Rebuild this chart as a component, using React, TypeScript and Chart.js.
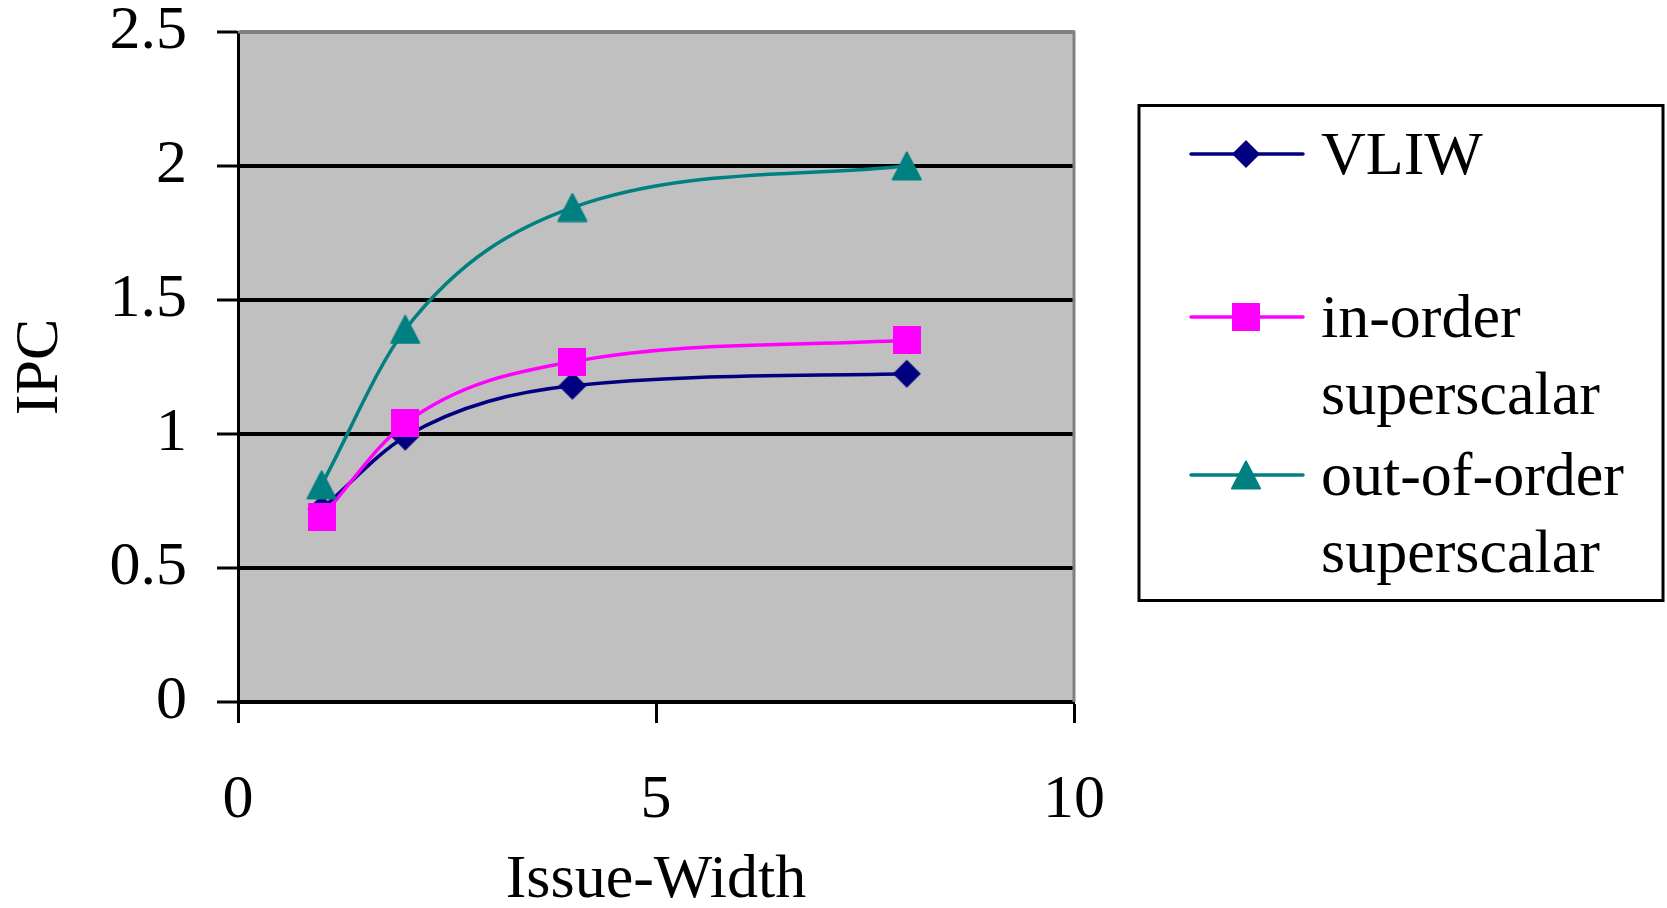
import { useEffect, useRef } from 'react';
import { Chart, registerables } from 'chart.js';

Chart.register(...registerables);

// Issue width on the x axis, IPC per processor model on the y axis
const issueWidths = [1, 2, 4, 8];
const vliwIpc = [0.72, 0.99, 1.18, 1.225];
const inOrderIpc = [0.69, 1.04, 1.27, 1.35];
const outOfOrderIpc = [0.81, 1.39, 1.845, 2.0];

const seriesNames = ['VLIW', 'in-order superscalar', 'out-of-order superscalar'];
const legendLines = [['VLIW'], ['in-order', 'superscalar'], ['out-of-order', 'superscalar']];
const seriesColors = ['#000080', '#FF00FF', '#008080'];
const markerKinds = ['diamond', 'square', 'triangle'] as const;

const xTickValues = [0, 5, 10];
const yTickValues = [0, 0.5, 1, 1.5, 2, 2.5];

const FONT_FAMILY = "'Liberation Serif', 'Times New Roman', serif";
const W = 1667;
const H = 908;

function makeMarker(kind: 'diamond' | 'square' | 'triangle', color: string): HTMLCanvasElement {
  const c = document.createElement('canvas');
  const ctx = c.getContext('2d') as CanvasRenderingContext2D;
  if (kind === 'diamond') {
    c.width = 30;
    c.height = 30;
    ctx.fillStyle = color;
    ctx.beginPath();
    ctx.moveTo(15, 1);
    ctx.lineTo(29, 15);
    ctx.lineTo(15, 29);
    ctx.lineTo(1, 15);
    ctx.closePath();
    ctx.fill();
  } else if (kind === 'square') {
    c.width = 28;
    c.height = 28;
    ctx.fillStyle = color;
    ctx.fillRect(0, 0, 28, 28);
  } else {
    c.width = 32;
    c.height = 30;
    ctx.fillStyle = color;
    ctx.strokeStyle = color;
    ctx.lineJoin = 'round';
    ctx.lineWidth = 2;
    ctx.beginPath();
    ctx.moveTo(16, 1.5);
    ctx.lineTo(30, 28.5);
    ctx.lineTo(2, 28.5);
    ctx.closePath();
    ctx.fill();
    ctx.stroke();
  }
  return c;
}

function toPoints(values: number[]) {
  return issueWidths.map((x, i) => ({ x, y: values[i] }));
}

export default function App() {
  const canvasRef = useRef<HTMLCanvasElement | null>(null);

  useEffect(() => {
    const canvas = canvasRef.current;
    if (!canvas) return;

    const markers = markerKinds.map((k, i) => makeMarker(k, seriesColors[i]));
    const seriesValues = [vliwIpc, inOrderIpc, outOfOrderIpc];

    // Plot background and the grey frame on the top/right of the plot area
    const plotFrame = {
      id: 'plotFrame',
      beforeDraw(chart: any) {
        const { ctx, chartArea } = chart;
        ctx.save();
        ctx.fillStyle = '#ffffff';
        ctx.fillRect(0, 0, chart.width, chart.height);
        ctx.fillStyle = '#C0C0C0';
        ctx.fillRect(chartArea.left, chartArea.top, chartArea.right - chartArea.left, chartArea.bottom - chartArea.top);
        ctx.restore();
      },
      beforeDatasetsDraw(chart: any) {
        const { ctx, chartArea } = chart;
        ctx.save();
        ctx.strokeStyle = '#808080';
        ctx.lineWidth = 3;
        ctx.beginPath();
        ctx.moveTo(chartArea.left, chartArea.top);
        ctx.lineTo(chartArea.right, chartArea.top);
        ctx.lineTo(chartArea.right, chartArea.bottom);
        ctx.stroke();
        ctx.restore();
      },
    };

    // Boxed legend to the right of the plot, with wrapped series names
    const boxedLegend = {
      id: 'boxedLegend',
      afterDraw(chart: any) {
        const { ctx } = chart;
        ctx.save();
        ctx.strokeStyle = '#000';
        ctx.lineWidth = 3;
        ctx.strokeRect(1139, 105.5, 1663 - 1139, 600.5 - 105.5);
        const rowY = [154, 317, 475];
        const lineGap = 77;
        chart.data.datasets.forEach((ds: any, i: number) => {
          const y = rowY[i];
          ctx.strokeStyle = ds.borderColor;
          ctx.lineWidth = 3.5;
          ctx.lineCap = 'round';
          ctx.beginPath();
          ctx.moveTo(1191, y);
          ctx.lineTo(1303, y);
          ctx.stroke();
          const m = markers[i];
          ctx.drawImage(m, 1246 - m.width / 2, y - m.height / 2);
          ctx.fillStyle = '#000';
          ctx.font = `62px ${FONT_FAMILY}`;
          ctx.textAlign = 'left';
          ctx.textBaseline = 'alphabetic';
          legendLines[i].forEach((t, j) => {
            ctx.fillText(t, 1321, y + 20 + j * lineGap);
          });
        });
        ctx.restore();
      },
    };

    const chart = new Chart(canvas, {
      type: 'line',
      data: {
        datasets: seriesNames.map((name, i) => ({
          label: name,
          data: toPoints(seriesValues[i]),
          borderColor: seriesColors[i],
          backgroundColor: seriesColors[i],
          borderWidth: 3.5,
          pointStyle: markers[i],
          pointRadius: 14,
          pointHoverRadius: 14,
          cubicInterpolationMode: 'monotone' as const,
          fill: false,
          order: 3 - i,
        })),
      },
      options: {
        responsive: false,
        animation: false,
        layout: { padding: { top: 32, right: W - 1074, bottom: 0, left: 0 } },
        plugins: {
          legend: { display: false },
          tooltip: { enabled: false },
        },
        scales: {
          x: {
            type: 'linear',
            min: 0,
            max: 10,
            afterBuildTicks: (s: any) => {
              s.ticks = xTickValues.map((v) => ({ value: v }));
            },
            afterFit: (s: any) => {
              s.height = H - 702;
            },
            border: { color: '#000', width: 3 },
            grid: {
              drawOnChartArea: false,
              drawTicks: true,
              tickLength: 21,
              tickColor: '#000',
              tickWidth: 3,
            },
            ticks: {
              color: '#000',
              padding: 41,
              maxRotation: 0,
              callback: (v: any) => String(v),
              font: { family: FONT_FAMILY, size: 62 },
            },
            title: {
              display: true,
              text: 'Issue-Width',
              color: '#000',
              font: { family: FONT_FAMILY, size: 62, lineHeight: 0.8 },
              padding: { top: 0, bottom: 2 },
            },
          },
          y: {
            type: 'linear',
            min: 0,
            max: 2.5,
            afterBuildTicks: (s: any) => {
              s.ticks = yTickValues.map((v) => ({ value: v }));
            },
            afterFit: (s: any) => {
              s.width = 238;
              s.paddingTop = 0;
              s.paddingBottom = 0;
            },
            border: { color: '#000', width: 3 },
            grid: {
              color: (c: any) => (c.tick && c.tick.value === 2.5 ? '#808080' : '#000'),
              lineWidth: 4,
              drawTicks: true,
              tickLength: 21,
              tickColor: '#000',
              tickWidth: 3,
            },
            ticks: {
              color: '#000',
              padding: 30,
              callback: (v: any) => String(v),
              font: { family: FONT_FAMILY, size: 62, lineHeight: 1 },
            },
            title: {
              display: true,
              text: 'IPC',
              color: '#000',
              font: { family: FONT_FAMILY, size: 62, lineHeight: 0.8 },
              padding: { top: 16, bottom: 0 },
            },
          },
        },
      },
      plugins: [plotFrame, boxedLegend],
    });

    return () => chart.destroy();
  }, []);

  return (
    <div style={{ position: 'absolute', left: 0, top: 0, width: W, height: H, background: '#fff' }}>
      <canvas ref={canvasRef} width={W} height={H} style={{ display: 'block' }} />
    </div>
  );
}
